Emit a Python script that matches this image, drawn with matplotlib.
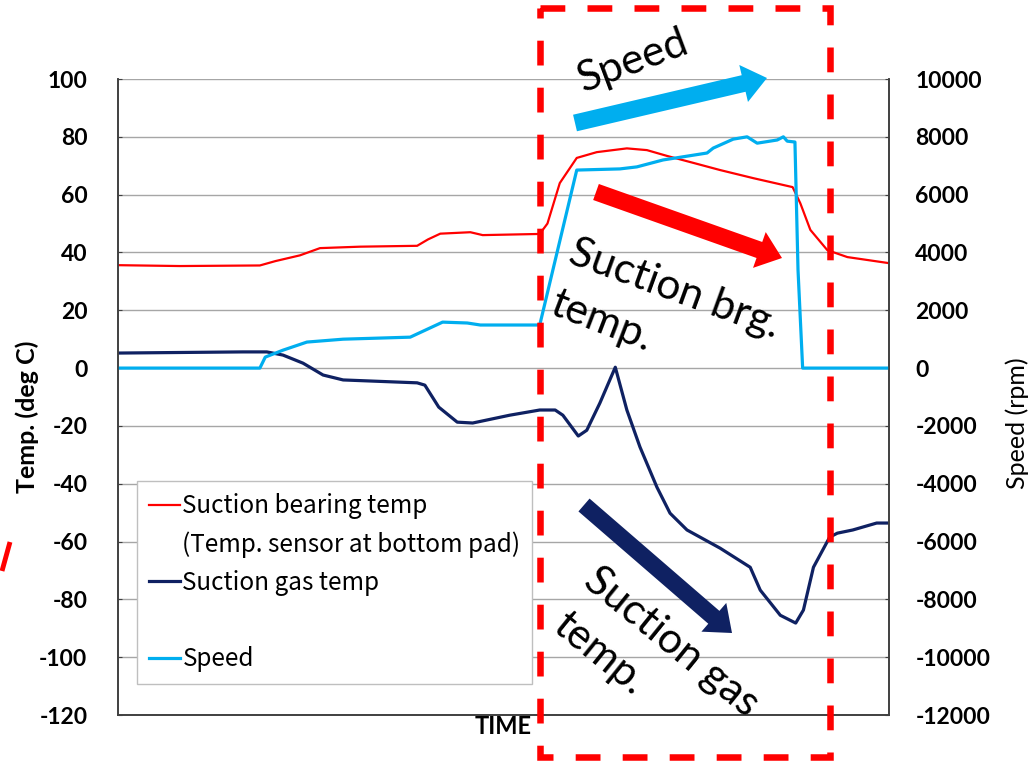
import numpy as np
import matplotlib.pyplot as plt
from matplotlib.lines import Line2D
from matplotlib.patches import FancyArrow, Rectangle

# ---- data (time axis has no scale, 0-100 arbitrary units) ----
brg_t = [0, 8.0, 18.4, 20.4, 23.6, 26.2, 31.4, 38.8, 40.2, 41.8, 45.7, 47.3, 54.7,
         55.7, 57.3, 59.5, 62.1, 66.0, 68.6, 71.2, 74.6, 78.1, 82.4, 87.5, 88.5,
         89.8, 92.0, 94.6, 100]
brg_temp = [35.6, 35.3, 35.5, 37, 39, 41.5, 42, 42.3, 44.5, 46.5, 47, 46, 46.4,
            50, 64, 72.7, 74.7, 76, 75.4, 73.4, 71, 68.5, 65.7, 62.6, 57,
            47.8, 40.8, 38.4, 36.3]

gas_t = [0, 16.2, 19.3, 21.4, 24.0, 26.6, 29.2, 38.8, 39.8, 41.6, 44.0, 46.0, 50.8,
         54.7, 56.7, 57.7, 59.7, 60.8, 62.5, 64.5, 66.0, 67.7, 69.9, 71.6, 73.8,
         78.1, 82.0, 83.3, 85.9, 87.9, 88.9, 90.2, 92.3, 93.3, 95.3, 98.4, 100]
gas_temp = [5.2, 5.6, 5.6, 4.5, 1.7, -2.4, -4.1, -5.1, -5.9, -13.5, -18.7, -19, -16.3,
            -14.5, -14.5, -16.3, -23.5, -21.5, -12.1, 0.3, -14.5, -27.3, -41.2, -50.2, -56,
            -62.3, -68.9, -76.8, -85.5, -88.2, -83.7, -68.9, -58.5, -57.1, -56, -53.6, -53.6]

spd_t = [0, 18.4, 19.1, 21.4, 24.5, 29.2, 37.9, 42.1, 45.3, 47.0, 54.7, 59.5, 65.1,
         67.3, 70.7, 76.4, 77.2, 79.8, 81.6, 82.9, 85.5, 86.3, 86.8, 87.8, 88.2,
         88.8, 100]
speed = [0, 0, 380, 620, 900, 1000, 1070, 1590, 1560, 1490, 1490, 6850, 6890,
         6960, 7200, 7440, 7610, 7920, 8000, 7780, 7890, 8000, 7850, 7820, 3390,
         0, 0]

temp_ticks = list(range(-120, 101, 20))
speed_ticks = list(range(-12000, 10001, 2000))

RED = '#FF0000'
NAVY = '#0F2162'
SKY = '#00AEEF'

W, H = 1033, 763
fig = plt.figure(figsize=(W / 100, H / 100), dpi=100)
ax = fig.add_axes([118 / W, 1 - 715 / H, 771 / W, 636 / H])
ax2 = ax.twinx()

ax.plot(brg_t, brg_temp, color=RED, lw=1.6)
ax.plot(gas_t, gas_temp, color=NAVY, lw=2.3)
ax2.plot(spd_t, speed, color=SKY, lw=2.3)

ax.set_xlim(0, 100)
ax.set_ylim(-120, 100)
ax2.set_ylim(-12000, 10000)
tick_kw = dict(fontfamily='Lato', fontweight='bold', fontsize=16.5)
ax.set_yticks(temp_ticks, labels=[str(v) for v in temp_ticks], **tick_kw)
ax2.set_yticks(speed_ticks, labels=[str(v) for v in speed_ticks], **tick_kw)
ax.set_xticks([])
ax.grid(axis='y', color='#A6A6A6', lw=1)
ax.set_axisbelow(True)

for a in (ax, ax2):
    a.spines['top'].set_visible(False)
    for s in ('left', 'right', 'bottom'):
        a.spines[s].set_color('#404040')
        a.spines[s].set_linewidth(1.2)

ax.tick_params(axis='y', direction='in', length=3, pad=22, color='#404040')
ax2.tick_params(axis='y', direction='in', length=3, pad=19, color='#404040')

ax.set_xlabel('TIME', fontfamily='Lato', fontweight='bold', fontsize=17, labelpad=0)
fig.text(27 / W, 1 - 417 / H, 'Temp. (deg C)', rotation=90, ha='center', va='center',
         fontfamily='Lato', fontweight='bold', fontsize=18)
fig.text(1017 / W, 1 - 423 / H, 'Speed (rpm)', rotation=90, ha='center', va='center',
         fontfamily='Lato', fontsize=18)

# legend (Excel style, with blank rows)
blank = Line2D([], [], color='none')
handles = [Line2D([], [], color=RED, lw=1.6), blank,
           Line2D([], [], color=NAVY, lw=2.3), blank,
           Line2D([], [], color=SKY, lw=2.3)]
labels = ['Suction bearing temp', '(Temp. sensor at bottom pad)',
          'Suction gas temp', ' ', 'Speed']
leg = ax2.legend(handles, labels, loc='upper left',
                 bbox_to_anchor=(137 / W, 1 - 708 / H, 395 / W, 227 / H),
                 bbox_transform=fig.transFigure, mode='expand',
                 frameon=True, fancybox=False, framealpha=1, edgecolor='#BFBFBF',
                 prop=dict(family='Noto Sans CJK JP', size=17.5),
                 handlelength=1.25, handletextpad=0.12, labelspacing=0.5,
                 borderpad=0.5, borderaxespad=0)
leg.get_frame().set_linewidth(1)

# overlay in pixel coordinates for the annotations
ov = fig.add_axes([0, 0, 1, 1], zorder=5)
ov.set_xlim(0, W)
ov.set_ylim(H, 0)
ov.axis('off')
ov.patch.set_alpha(0)

ov.add_patch(Rectangle((540, 8), 290, 749, fill=False, edgecolor=RED, lw=4.7,
                       linestyle=(0, (3.8, 3.4))))
ov.plot([10, 2], [542, 571], color=RED, lw=3.5, solid_capstyle='butt')

def arrow(x0, y0, x1, y1, color):
    ov.add_patch(FancyArrow(x0, y0, x1 - x0, y1 - y0, width=17, head_width=38,
                            head_length=24, length_includes_head=True,
                            color=color, lw=0))

arrow(575, 123, 767, 78, SKY)
arrow(596, 192, 782, 258, RED)
arrow(584, 505, 732, 633, NAVY)

ann = dict(family='Lato', size=30.5, color='black', rotation_mode='anchor',
           ha='left', va='baseline')
ov.text(583, 92, 'Speed', rotation=20.5, **ann)
ov.text(566, 262, 'Suction brg.', rotation=-20, **ann)
ov.text(548, 313, 'temp.', rotation=-21, **ann)
ov.text(581, 585, 'Suction gas', rotation=-39, **ann)
ov.text(551, 630, 'temp.', rotation=-39, **ann)

fig.savefig('out.png', dpi=100)
